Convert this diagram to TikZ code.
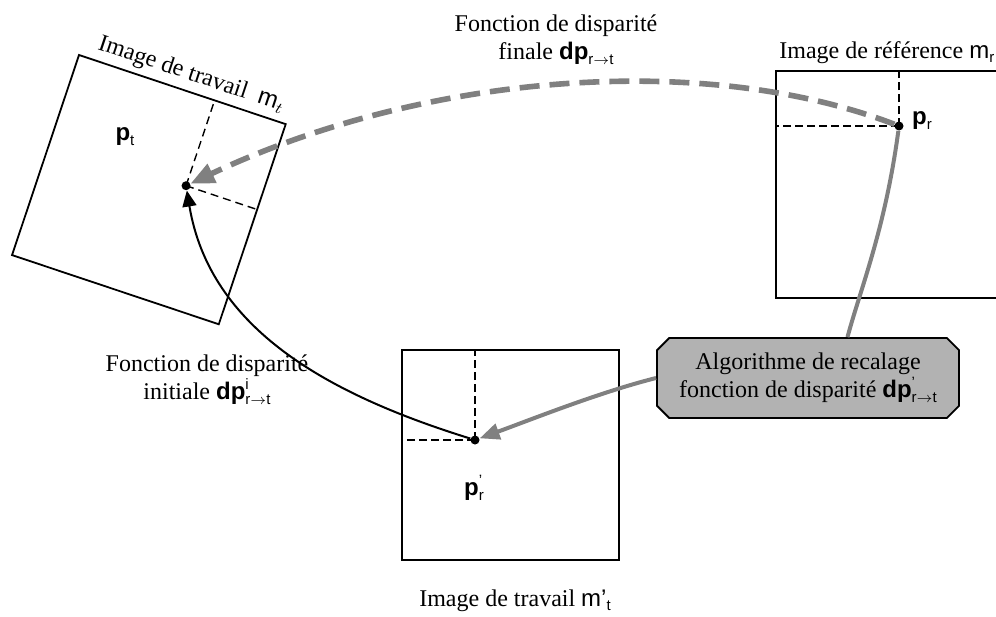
\documentclass[tikz,border=0pt]{standalone}
\usepackage{fontspec}
\setmainfont{Liberation Serif}
\setsansfont{Liberation Sans}
\usetikzlibrary{arrows.meta,shapes.misc}
\definecolor{flowgray}{RGB}{128,128,128}
\definecolor{boxgray}{RGB}{178,178,178}
\newcommand{\vb}[1]{\textsf{\bfseries #1}}
\newcommand{\lo}[1]{\raisebox{-0.4ex}{\fontsize{7.5}{8}\selectfont\textsf{#1}}}
\newcommand{\hi}[1]{\raisebox{0.95ex}{\fontsize{7.5}{8}\selectfont\textsf{#1}}}
\newcommand{\rtot}{\lo{r$\rightarrow$t}}

\begin{document}
\begin{tikzpicture}[x=0.5pt,y=-0.5pt,
  frame/.style={line width=0.9pt},
  guide/.style={line width=0.7pt,dash pattern=on 4pt off 2.5pt},
  guidebold/.style={line width=1.2pt,dash pattern=on 4pt off 2pt},
  dot/.style={circle,fill,inner sep=0pt,minimum size=4.5pt},
  lbl/.style={font=\fontsize{12}{14}\selectfont,inner sep=0pt,align=center},
  finalflow/.style={flowgray,line width=2.8pt,dash pattern=on 10pt off 5pt,
    -{Triangle[length=12pt,width=10pt]}},
  regflow/.style={flowgray,line width=2pt},
  initflow/.style={line width=1pt,-{Triangle[length=8pt,width=7pt]}},
  algobox/.style={chamfered rectangle,draw,line width=0.9pt,fill=boxgray,
    minimum width=151pt,minimum height=40pt,inner sep=2pt,
    font=\fontsize{12}{14}\selectfont,align=center}]
  \useasboundingbox (0,0) rectangle (996,616);

  % image de travail m_t (tournee)
  \begin{scope}[shift={(79,55)},rotate=-18.5]
    \draw[frame] (0,0) rectangle (218,211);
    \node[dot] (ptdot) at (143,90) {};
    \draw[guide] (ptdot.center) -- (143,0);
    \draw[guide] (ptdot.center) -- (218,90);
    \node[lbl,rotate=-18.5] (mt) at (113,-17) {Image de travail\ \ \textsf{m}$_{t}$};
  \end{scope}
  \node[lbl] (pt) at (125,137) {\vb{p}\lo{t}};

  % image de reference m_r
  \draw[frame] (776,71) rectangle (1010,298);
  \node[dot] (prdot) at (899,126) {};
  \draw[guidebold] (prdot.center) -- (899,71);
  \draw[guidebold] (prdot.center) -- (776,126);
  \node[lbl,anchor=base west] (mr) at (779,58) {Image de r\'ef\'erence \textsf{m}\lo{r}};
  \node[lbl] (pr) at (922,121) {\vb{p}\lo{r}};

  % image de travail m'_t
  \draw[frame] (402,350) rectangle (619,560);
  \node[dot] (prpdot) at (475,440) {};
  \draw[guidebold] (prpdot.center) -- (475,350);
  \draw[guidebold] (prpdot.center) -- (402,440);
  \node[lbl] (prp) at (474,488) {\vb{p}\rlap{\hi{'}}\lo{r}};
  \node[lbl,anchor=base] (mtp) at (515,606) {Image de travail \textsf{m'}\lo{t}};

  % algorithme
  \node[algobox] (algo) at (808,378) {Algorithme de recalage\\
    fonction de disparit\'e \vb{dp}\rlap{\hi{'}}\rtot};

  % fonctions de disparite
  \node[lbl] (dpfinal) at (556,40) {Fonction de disparit\'e\\
    finale \vb{dp}\rtot};
  \node[lbl] (dpinit) at (207,380) {Fonction de disparit\'e\\
    initiale \vb{dp}\rlap{\hi{i}}\rtot};

  \draw[finalflow] (prdot) .. controls (700,50) and (420,75) .. (ptdot);
  \draw[regflow] (prdot) .. controls (885,230) and (860,290) .. (algo.46);
  \draw[regflow,-{Triangle[length=10pt,width=8pt]}] (algo.west)
    .. controls (600,392) and (530,420) .. (prpdot);
  \draw[initflow] (prpdot) .. controls (330,395) and (210,330) .. (ptdot);
\end{tikzpicture}
\end{document}
